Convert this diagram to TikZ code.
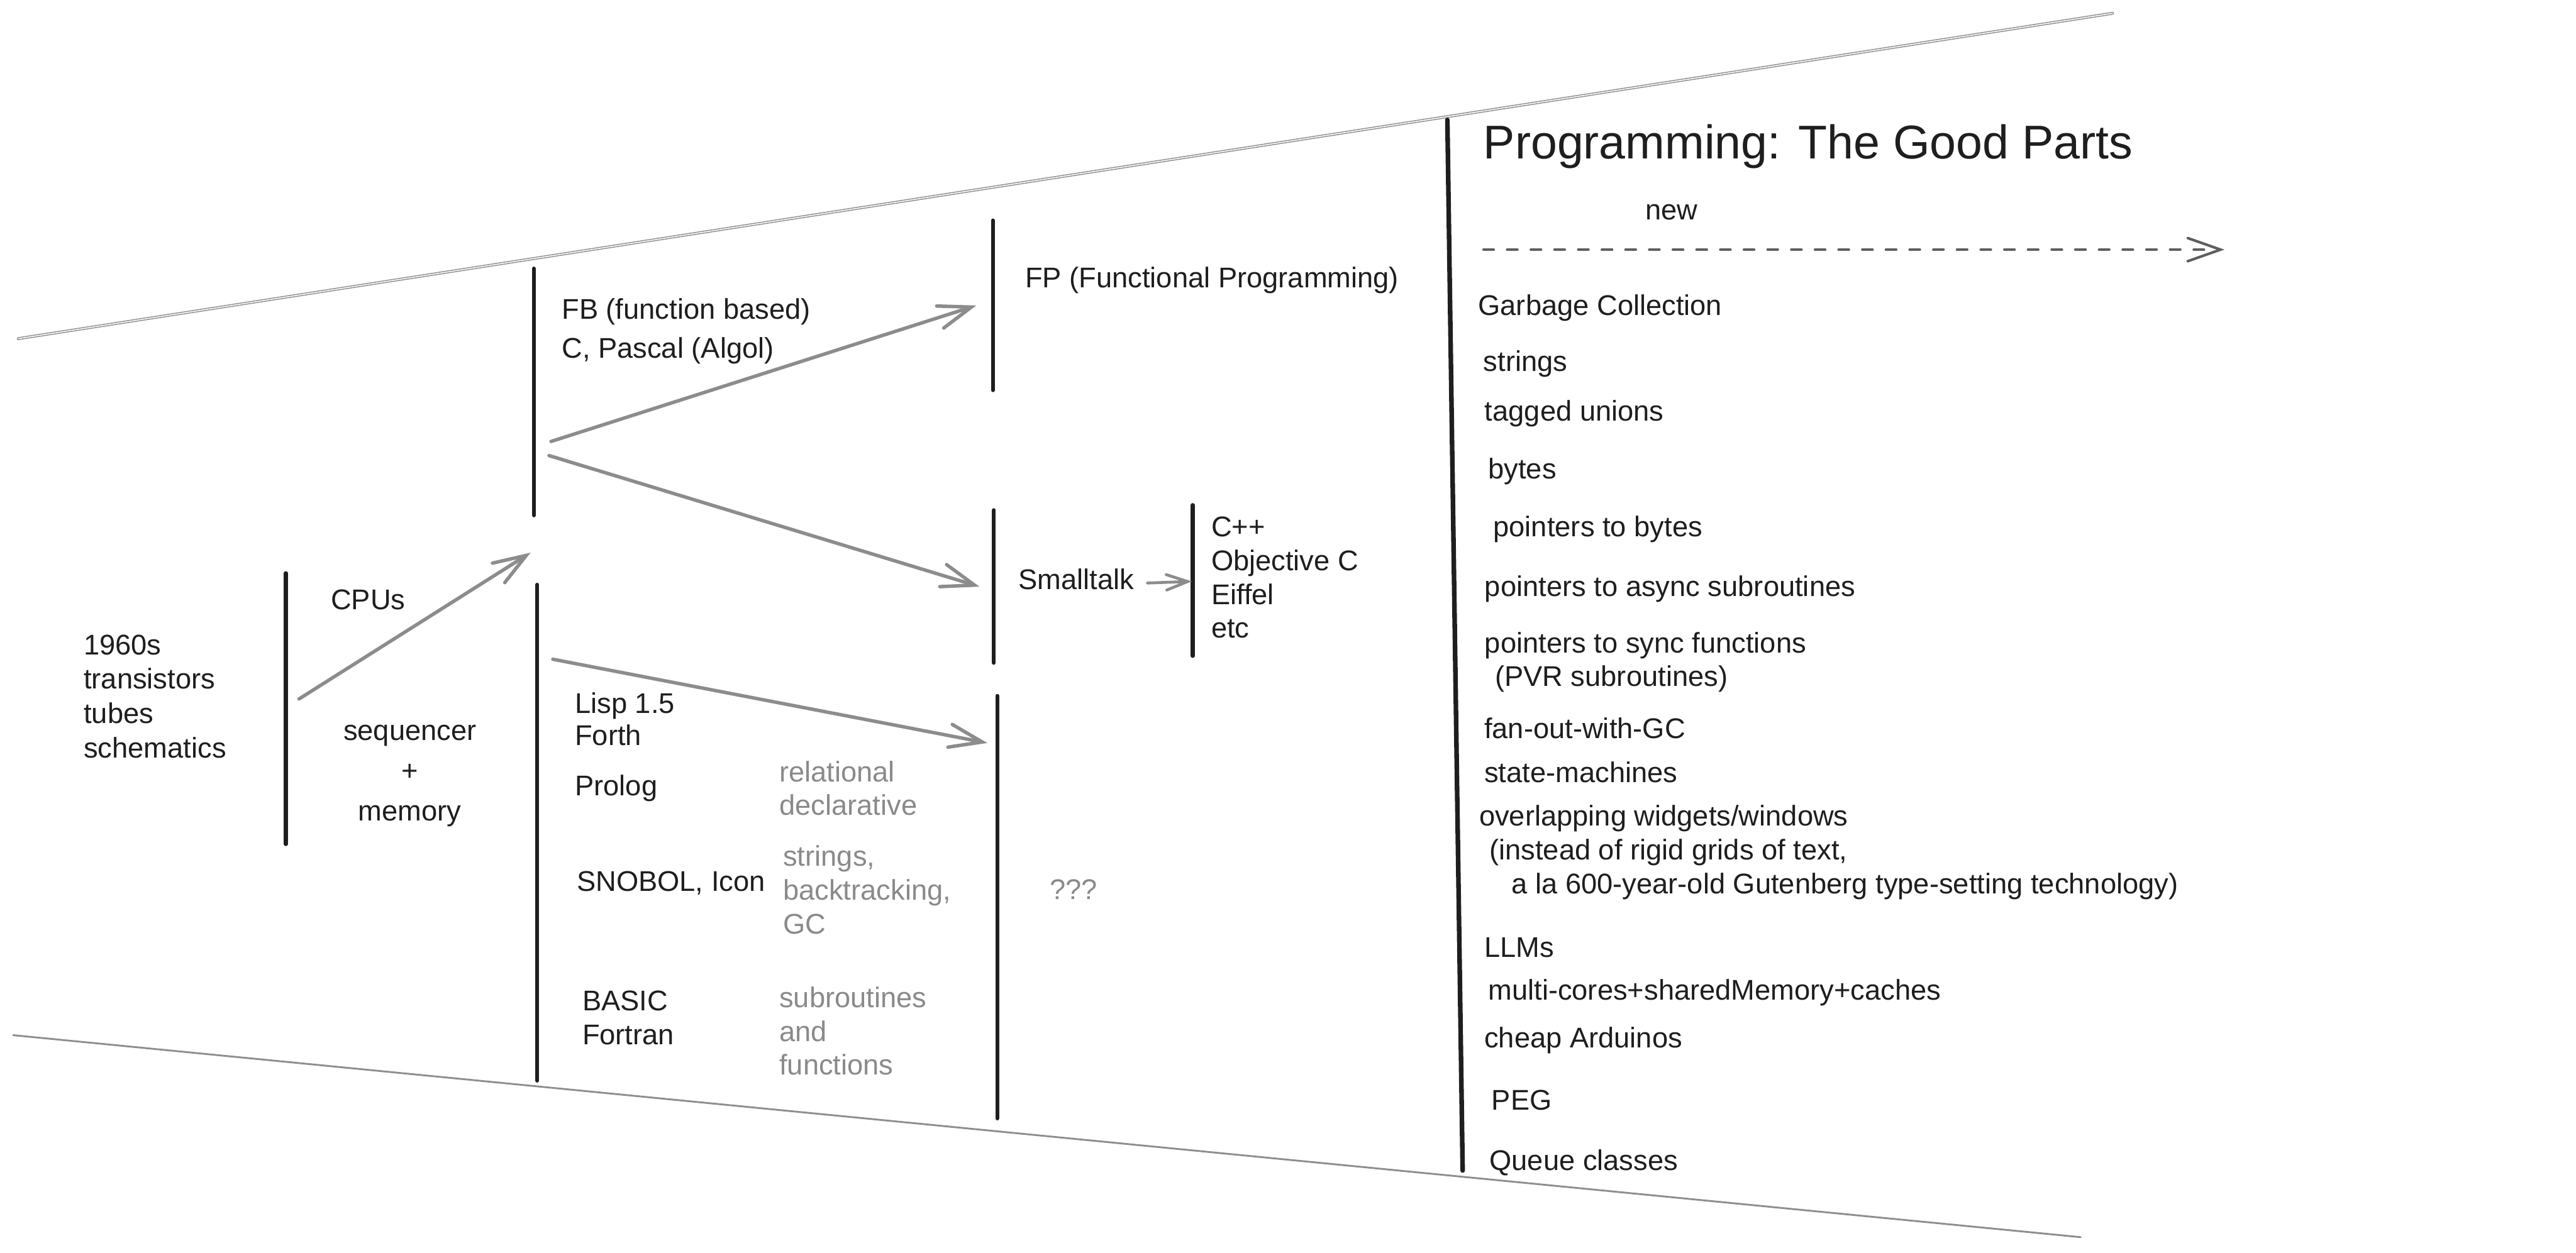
\documentclass[tikz,border=0pt]{standalone}
\usepackage{fontspec}
\setmainfont{Liberation Sans}
\usetikzlibrary{arrows.meta}
\definecolor{ink}{HTML}{1E1E1E}
\definecolor{softgray}{HTML}{8A8A8A}
\definecolor{arrowgray}{HTML}{8C8C8C}
\definecolor{edgegray}{HTML}{8E8E8E}
\definecolor{dashgray}{HTML}{5E5E5E}
\begin{document}
\begin{tikzpicture}[x=0.03cm,y=-0.03cm,
  txt/.style={anchor=base west, inner sep=0pt, outer sep=0pt, text=ink,
    font=\fontsize{14.8pt}{17.6pt}\selectfont, align=left},
  note/.style={txt, text=softgray},
  titletxt/.style={txt, font=\fontsize{24.6pt}{29pt}\selectfont},
  bar/.style={draw=ink, line width=2pt, line cap=round},
  bigbar/.style={draw=ink, line width=2.4pt, line cap=round},
  garrow/.style={draw=arrowgray, line width=1.8pt, line cap=round,
    -{Straight Barb[length=17pt,width=12pt,line cap=round]}},
  smallarrow/.style={draw=arrowgray, line width=1.5pt, line cap=round,
    -{Straight Barb[length=11pt,width=8pt,line cap=round]}},
  dasharrow/.style={draw=dashgray, line width=1.35pt, line cap=round,
    dash pattern=on 5.3pt off 7pt,
    -{Straight Barb[length=17pt,width=12pt,line cap=round]}},
  topedge/.style={draw=edgegray, line width=0.5pt, double=white, double distance=0.5pt, line cap=round},
  botedge/.style={draw=edgegray, line width=0.95pt, line cap=round},
]
\useasboundingbox (0,0) rectangle (1568,762.6);

% outer boundary lines
\coordinate (topL) at (11.1,206.2);
\coordinate (topR) at (1285.9,8.1);
\coordinate (botL) at (8,630.3);
\coordinate (botR) at (1266.5,753.3);
\draw[topedge] (topL) -- (topR);
\draw[botedge] (botL) -- (botR);

% vertical bars
\coordinate (b1t) at (174,349);   \coordinate (b1b) at (174,514);
\coordinate (b2t) at (325,163.5); \coordinate (b2b) at (325,313.8);
\coordinate (b3t) at (327,356);   \coordinate (b3b) at (327,658);
\coordinate (b4t) at (604.4,134.2); \coordinate (b4b) at (604.4,237.6);
\coordinate (b5t) at (605,310.6); \coordinate (b5b) at (605,403.6);
\coordinate (b6t) at (607,423.7); \coordinate (b6b) at (607,681);
\coordinate (b7t) at (726,307.5); \coordinate (b7b) at (726,399.4);
\coordinate (b8t) at (881,73);    \coordinate (b8b) at (890.3,712.7);
\draw[bar] (b1t) -- (b1b);
\draw[bar] (b2t) -- (b2b);
\draw[bar] (b3t) -- (b3b);
\draw[bar] (b4t) -- (b4b);
\draw[bar] (b5t) -- (b5b);
\draw[bar] (b6t) -- (b6b);
\draw[bar] (b7t) -- (b7b);
\draw[bigbar] (b8t) -- (b8b);

% arrows
\coordinate (cpuS) at (182,425.6);  \coordinate (cpuE) at (323,336.5);
\coordinate (fpS) at (335.4,268.8); \coordinate (fpE) at (594.3,186);
\coordinate (stS) at (334.2,277.4); \coordinate (stE) at (596.2,357.2);
\coordinate (lpS) at (336.5,401.4); \coordinate (lpE) at (601,452.4);
\coordinate (ooS) at (698.5,355);   \coordinate (ooE) at (725.5,354);
\coordinate (nwS) at (903,152);     \coordinate (nwE) at (1354,152);
\draw[garrow] (cpuS) -- (cpuE);
\draw[garrow] (fpS) -- (fpE);
\draw[garrow] (stS) -- (stE);
\draw[garrow] (lpS) -- (lpE);
\draw[smallarrow] (ooS) -- (ooE);
\draw[dasharrow] (nwS) -- (nwE);

% left texts (multi-line nodes are placed by the baseline of their last line)
\node[txt] (era) at (51,461.5) {1960s\\[0.3pt]transistors\\[0.3pt]tubes\\[0.3pt]schematics};
\node[txt] (cpus) at (201.4,371.3) {CPUs};
\node[txt, anchor=base, align=center] (seqmem) at (249.5,499.8) {sequencer\\[3.4pt]+\\[3.4pt]memory};
\node[txt] (fb) at (342,218) {FB (function based)\\[2.5pt]C, Pascal (Algol)};
\node[txt] (fp) at (624,175) {FP (Functional Programming)};
\node[txt] (st) at (620,358.7) {Smalltalk};
\node[txt] (oo) at (737.3,388.5) {C++\\Objective C\\Eiffel\\etc};
\node[txt] (lisp) at (350,454) {Lisp 1.5\\[-0.9pt]Forth};
\node[txt] (prolog) at (350,484.4) {Prolog};
\node[note] (rel) at (474.4,496.5) {relational\\declarative};
\node[txt] (snobol) at (351.1,542.7) {SNOBOL, Icon};
\node[note] (strs) at (476.7,568.5) {strings,\\backtracking,\\GC};
\node[txt] (basic) at (354.5,636) {BASIC\\Fortran};
\node[note] (subr) at (474.4,654.6) {subroutines\\and\\functions};
\node[note] (qqq) at (639,547.6) {???};

% right column
\node[titletxt] (title) at (903,96.6) {Programming: The Good Parts};
\node[txt] (new) at (1001.6,133.7) {new};
\node[txt] (gc) at (899.8,192) {Garbage Collection};
\node[txt] (strings) at (903,226) {strings};
\node[txt] (tagged) at (903.8,256.3) {tagged unions};
\node[txt] (bytes) at (905.9,291.4) {bytes};
\node[txt] (ptrbytes) at (909,326.8) {pointers to bytes};
\node[txt] (async) at (903.8,363.2) {pointers to async subroutines};
\node[txt] (sync) at (903.8,418) {pointers to sync functions\\\hspace*{5.3pt}(PVR subroutines)};
\node[txt] (fanout) at (903.5,449.8) {fan-out-with-GC};
\node[txt] (statem) at (903.5,476.4) {state-machines};
\node[txt] (overlap) at (900.4,544.2) {overlapping widgets/windows\\\hspace*{5.3pt}(instead of rigid grids of text,\\\hspace*{16.8pt}a la 600-year-old Gutenberg type-setting technology)};
\node[txt] (llms) at (903.5,582.7) {LLMs};
\node[txt] (multi) at (905.9,609) {multi-cores+sharedMemory+caches};
\node[txt] (cheap) at (903.5,637.9) {cheap Arduinos};
\node[txt] (peg) at (908,676) {PEG};
\node[txt] (queue) at (906.7,712.7) {Queue classes};
\end{tikzpicture}
\end{document}
